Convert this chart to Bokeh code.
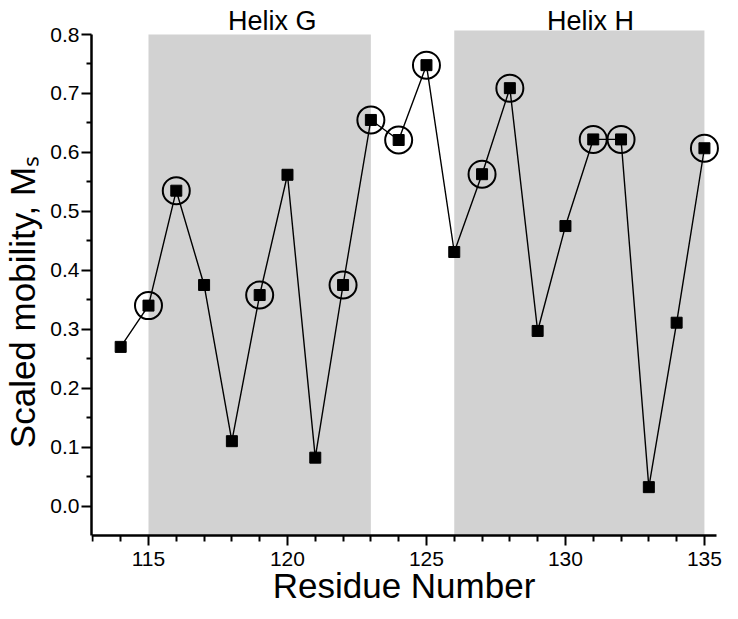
from bokeh.plotting import figure
from bokeh.models import Range1d, FixedTicker, PrintfTickFormatter
from bokeh.embed import file_html
from bokeh.resources import INLINE
from bokeh.core.properties import value

# ---- data ----
residues = [114, 115, 116, 117, 118, 119, 120, 121, 122, 123, 124,
            125, 126, 127, 128, 129, 130, 131, 132, 133, 134, 135]
mobility = [0.270, 0.340, 0.535, 0.375, 0.110, 0.358, 0.562, 0.082, 0.375, 0.655, 0.621,
            0.748, 0.431, 0.563, 0.709, 0.297, 0.475, 0.622, 0.622, 0.032, 0.311, 0.607]
circled_residues = [115, 116, 119, 122, 123, 124, 125, 127, 128, 131, 132, 135]

helix_names = ["Helix G", "Helix H"]
helix_start = [115, 126]
helix_end = [123, 135]
helix_top = [0.80, 0.807]
helix_label_x = [119.45, 130.9]

x_ticks = [115, 120, 125, 130, 135]
x_minor = [113, 114, 116, 117, 118, 119, 121, 122, 123, 124, 126, 127, 128, 129,
           131, 132, 133, 134]
y_ticks = [0.0, 0.1, 0.2, 0.3, 0.4, 0.5, 0.6, 0.7, 0.8]
y_minor = [0.05, 0.15, 0.25, 0.35, 0.45, 0.55, 0.65, 0.75]

x_title = "Residue Number"
y_title = "Scaled mobility, Mₛ"

circ_x = [r for r in residues if r in circled_residues]
circ_y = [m for r, m in zip(residues, mobility) if r in circled_residues]

FONT = "Liberation Sans"
Y_BASE = -0.05      # where the x axis sits
X_AXIS_BOUNDS = (112.95, 135.45)

p = figure(width=722, height=603,
           x_range=Range1d(112.95, 135.65), y_range=Range1d(-0.1654, 0.8577),
           output_backend="svg", toolbar_location=None,
           min_border_top=0, min_border_right=0, min_border_left=88, min_border_bottom=0)

p.quad(left=helix_start, right=helix_end, bottom=Y_BASE, top=helix_top,
       fill_color="#d2d2d2", line_color=None)
p.line(residues, mobility, line_color="black", line_width=1.4)
p.scatter(residues, mobility, marker="square", size=11, color="black")
p.scatter(circ_x, circ_y, marker="circle", size=27, fill_color=None,
          line_color="black", line_width=2)
p.text(x=helix_label_x, y=[0.8225, 0.8225], text=helix_names,
       text_font=value(FONT), text_font_size="27px", text_color="black",
       text_align="center", text_baseline="alphabetic")

p.xgrid.visible = False
p.ygrid.visible = False
p.outline_line_color = None

for ax in (p.xaxis[0], p.yaxis[0]):
    ax.axis_line_width = 2.5
    ax.axis_line_color = "black"
    ax.major_tick_line_width = 2
    ax.minor_tick_line_width = 2
    ax.major_tick_in = 0
    ax.minor_tick_in = 0
    ax.major_tick_out = 10
    ax.major_label_text_font = FONT
    ax.major_label_text_font_size = "21px"
    ax.major_label_text_color = "black"
    ax.axis_label_text_font = FONT
    ax.axis_label_text_font_style = "normal"
    ax.axis_label_text_font_size = "35px"
    ax.axis_label_text_color = "black"

p.xaxis.ticker = FixedTicker(ticks=x_ticks, minor_ticks=x_minor)
p.xaxis.fixed_location = Y_BASE
p.xaxis.bounds = X_AXIS_BOUNDS
p.xaxis.minor_tick_out = 6
p.xaxis.major_label_standoff = 7
p.xaxis.axis_label = x_title
p.xaxis.axis_label_standoff = -4

p.yaxis.ticker = FixedTicker(ticks=y_ticks, minor_ticks=y_minor)
p.yaxis.formatter = PrintfTickFormatter(format="%.1f")
p.yaxis.minor_tick_out = 5
p.yaxis.major_label_standoff = 2
p.yaxis.axis_label = y_title
p.yaxis.axis_label_standoff = 5
p.yaxis.bounds = (Y_BASE, 0.8)

open("out.html", "w").write(file_html(p, INLINE))
